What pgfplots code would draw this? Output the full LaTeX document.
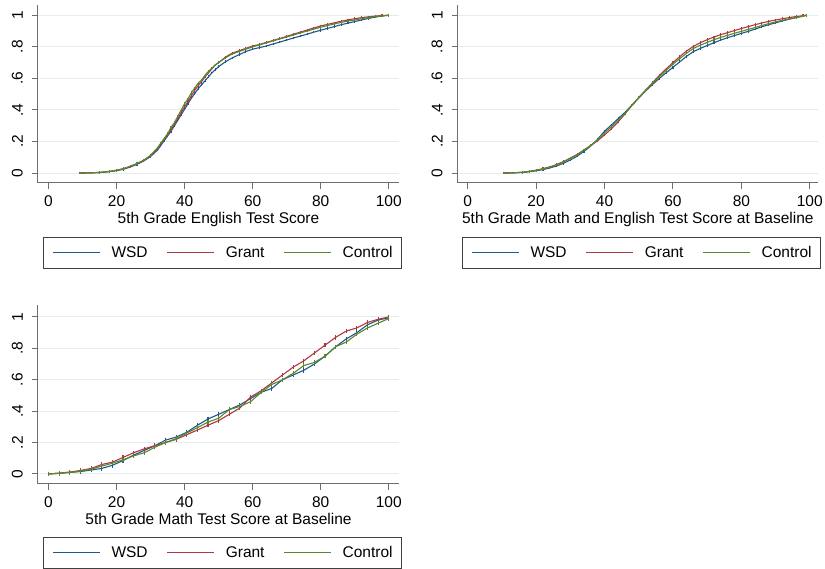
\documentclass[border=0pt]{standalone}
\usepackage{fontspec}
\setmainfont{Liberation Sans}
\usepackage{pgfplots}
\pgfplotsset{compat=1.18}
\definecolor{wsd}{RGB}{30,88,140}
\definecolor{grant}{RGB}{175,55,65}
\definecolor{ctrl}{RGB}{90,135,45}
\definecolor{gridc}{RGB}{228,237,237}
\definecolor{axc}{RGB}{110,110,110}
\pgfplotsset{stata/.style={
  scale only axis, width=361pt, height=178pt,
  axis lines*=left, axis line style={axc, line width=1pt},
  xmin=-3.1, xmax=103, ymin=-0.063, ymax=1.065,
  xtick={0,20,...,100}, ytick={0,0.2,0.4,0.6,0.8,1}, yticklabels={0,.2,.4,.6,.8,1},
  tick align=outside, major tick length=6pt, tick style={axc, line width=1pt},
  ymajorgrids, grid style={gridc, line width=1pt},
  font=\fontsize{15.5}{18}\selectfont,
  /pgf/number format/assume math mode=true,
  xticklabel style={inner sep=0pt, anchor=north}, xticklabel shift=6pt,
  yticklabel style={rotate=90, inner sep=0pt, anchor=south}, yticklabel shift=9pt,
  xlabel style={at={(axis description cs:0.5,0)}, anchor=base, yshift=-41pt},
  legend columns=3,
  legend image code/.code={\draw[##1] (0pt,0pt) -- (47pt,0pt);},
  legend style={draw=black!75, line width=0.8pt, inner xsep=9pt, inner ysep=9pt,
     font=\fontsize{15.5}{18}\selectfont, anchor=north west,
     nodes={inner sep=0pt},
     /tikz/every odd column/.append style={column sep=11pt},
     /tikz/every even column/.append style={column sep=19pt}},
  every axis plot/.append style={line width=1.1pt},
  jag/.style={mark=|, mark size=1.3pt, mark options={solid}},
}}
\begin{document}
\begin{tikzpicture}
\useasboundingbox (0,0) rectangle (825pt,569pt);
% Panel 1
\begin{axis}[stata, at={(38pt,386pt)}, anchor=south west,
  xlabel={5th Grade English Test Score},
  legend style={at={(axis description cs:0.0139,-0.3034)}}]
\addplot[wsd, jag] coordinates {(9,0)(12,0.001)(15,0.003)(18,0.009)(20,0.015)(22,0.024)(24,0.038)(26,0.055)(28,0.077)(30,0.105)(32,0.145)(33,0.175)(34,0.205)(35,0.235)(36,0.265)(37,0.30)(38,0.335)(39,0.37)(40,0.405)(41,0.44)(42,0.475)(43,0.505)(44,0.535)(45,0.56)(46,0.585)(47,0.61)(48,0.635)(49,0.655)(50,0.675)(52,0.705)(54,0.73)(56,0.75)(58,0.77)(60,0.785)(62,0.795)(64,0.805)(66,0.818)(68,0.83)(70,0.843)(72,0.856)(74,0.868)(76,0.88)(78,0.893)(80,0.905)(82,0.917)(84,0.928)(86,0.94)(88,0.95)(90,0.96)(92,0.97)(94,0.98)(96,0.988)(98,0.995)(100,1)};
\addlegendentry{WSD}
\addplot[grant, jag] coordinates {(9,0)(12,0.001)(15,0.004)(18,0.011)(20,0.018)(22,0.028)(24,0.043)(26,0.06)(28,0.08)(30,0.11)(32,0.155)(33,0.185)(34,0.215)(35,0.24)(36,0.275)(37,0.31)(38,0.345)(39,0.385)(40,0.42)(41,0.455)(42,0.49)(43,0.525)(44,0.555)(45,0.58)(46,0.61)(47,0.635)(48,0.66)(49,0.685)(50,0.70)(52,0.735)(54,0.76)(56,0.775)(58,0.79)(60,0.805)(62,0.815)(64,0.828)(66,0.84)(68,0.853)(70,0.866)(72,0.88)(74,0.893)(76,0.906)(78,0.92)(80,0.932)(82,0.942)(84,0.952)(86,0.962)(88,0.97)(90,0.978)(92,0.985)(94,0.99)(96,0.995)(98,0.998)(100,1)};
\addlegendentry{Grant}
\addplot[ctrl, jag] coordinates {(9,0)(12,0.001)(15,0.004)(18,0.01)(20,0.017)(22,0.027)(24,0.042)(26,0.06)(28,0.082)(30,0.113)(32,0.16)(33,0.19)(34,0.22)(35,0.25)(36,0.29)(37,0.32)(38,0.36)(39,0.40)(40,0.44)(41,0.47)(42,0.51)(43,0.54)(44,0.57)(45,0.59)(46,0.62)(47,0.645)(48,0.665)(49,0.685)(50,0.70)(52,0.73)(54,0.755)(56,0.77)(58,0.785)(60,0.80)(62,0.812)(64,0.825)(66,0.838)(68,0.85)(70,0.862)(72,0.875)(74,0.888)(76,0.90)(78,0.912)(80,0.924)(82,0.935)(84,0.945)(86,0.955)(88,0.963)(90,0.97)(92,0.978)(94,0.985)(96,0.991)(98,0.996)(100,1)};
\addlegendentry{Control}
\end{axis}
% Panel 2
\begin{axis}[stata, at={(457.7pt,386pt)}, anchor=south west, width=360.3pt,
  xmin=-2.92, xmax=102.4,
  xlabel={5th Grade Math and English Test Score at Baseline},
  legend style={at={(axis description cs:0.012,-0.3034)}}]
\addplot[wsd, jag] coordinates {(10.5,0)(13,0.001)(16,0.004)(18,0.008)(20,0.014)(22,0.022)(24,0.032)(26,0.045)(28,0.062)(30,0.083)(32,0.107)(34,0.137)(36,0.172)(38,0.215)(40,0.265)(42,0.305)(44,0.345)(46,0.385)(48,0.43)(50,0.475)(52,0.52)(54,0.56)(56,0.60)(58,0.635)(60,0.67)(62,0.705)(64,0.74)(66,0.77)(68,0.79)(70,0.808)(72,0.826)(74,0.843)(76,0.858)(78,0.872)(80,0.885)(82,0.898)(84,0.912)(86,0.927)(88,0.94)(90,0.952)(92,0.964)(94,0.975)(96,0.985)(98,0.994)(99,1)};
\addlegendentry{WSD}
\addplot[grant, jag] coordinates {(10.5,0)(13,0.001)(16,0.005)(18,0.011)(20,0.018)(22,0.028)(24,0.039)(26,0.054)(28,0.073)(30,0.095)(32,0.118)(34,0.147)(36,0.175)(38,0.205)(40,0.242)(42,0.28)(44,0.325)(46,0.375)(48,0.428)(50,0.478)(52,0.525)(54,0.572)(56,0.618)(58,0.66)(60,0.70)(62,0.738)(64,0.774)(66,0.803)(68,0.826)(70,0.845)(72,0.862)(74,0.877)(76,0.89)(78,0.903)(80,0.916)(82,0.928)(84,0.94)(86,0.951)(88,0.961)(90,0.97)(92,0.978)(94,0.985)(96,0.992)(98,0.997)(99,1)};
\addlegendentry{Grant}
\addplot[ctrl, jag] coordinates {(10.5,0)(13,0.001)(16,0.005)(18,0.01)(20,0.017)(22,0.026)(24,0.037)(26,0.052)(28,0.07)(30,0.092)(32,0.115)(34,0.145)(36,0.175)(38,0.21)(40,0.255)(42,0.293)(44,0.335)(46,0.38)(48,0.43)(50,0.478)(52,0.523)(54,0.567)(56,0.61)(58,0.65)(60,0.69)(62,0.725)(64,0.76)(66,0.79)(68,0.81)(70,0.828)(72,0.845)(74,0.86)(76,0.873)(78,0.886)(80,0.898)(82,0.91)(84,0.922)(86,0.935)(88,0.947)(90,0.958)(92,0.968)(94,0.977)(96,0.986)(98,0.995)(99,1)};
\addlegendentry{Control}
\end{axis}
% Panel 3
\begin{axis}[stata, at={(38pt,85pt)}, anchor=south west, height=179pt,
  ymin=-0.064, ymax=1.076,
  xlabel={5th Grade Math Test Score at Baseline},
  legend style={at={(axis description cs:0.0139,-0.296)}}]
\addplot[wsd, mark=|, mark size=2.2pt, mark options={solid}] coordinates {(0,0)(3.125,0.004)(6.25,0.01)(9.375,0.015)(12.5,0.025)(15.625,0.035)(18.75,0.055)(21.875,0.085)(25,0.12)(28.125,0.15)(31.25,0.18)(34.375,0.215)(37.5,0.235)(40.625,0.265)(43.75,0.31)(46.875,0.35)(50,0.38)(53.125,0.41)(56.25,0.44)(59.375,0.48)(62.5,0.52)(65.625,0.545)(68.75,0.60)(71.875,0.63)(75,0.66)(78.125,0.70)(81.25,0.75)(84.375,0.81)(87.5,0.86)(90.625,0.90)(93.75,0.95)(96.875,0.98)(100,0.995)};
\addlegendentry{WSD}
\addplot[grant, mark=|, mark size=2.2pt, mark options={solid}] coordinates {(0,0)(3.125,0.005)(6.25,0.012)(9.375,0.022)(12.5,0.035)(15.625,0.06)(18.75,0.075)(21.875,0.105)(25,0.135)(28.125,0.16)(31.25,0.18)(34.375,0.2)(37.5,0.22)(40.625,0.25)(43.75,0.28)(46.875,0.31)(50,0.34)(53.125,0.38)(56.25,0.42)(59.375,0.49)(62.5,0.53)(65.625,0.58)(68.75,0.63)(71.875,0.68)(75,0.72)(78.125,0.77)(81.25,0.82)(84.375,0.87)(87.5,0.91)(90.625,0.93)(93.75,0.965)(96.875,0.985)(100,1)};
\addlegendentry{Grant}
\addplot[ctrl, mark=|, mark size=2.2pt, mark options={solid}] coordinates {(0,0)(3.125,0.004)(6.25,0.01)(9.375,0.018)(12.5,0.03)(15.625,0.05)(18.75,0.068)(21.875,0.09)(25,0.115)(28.125,0.135)(31.25,0.17)(34.375,0.2)(37.5,0.225)(40.625,0.26)(43.75,0.295)(46.875,0.33)(50,0.355)(53.125,0.41)(56.25,0.43)(59.375,0.46)(62.5,0.52)(65.625,0.57)(68.75,0.60)(71.875,0.64)(75,0.69)(78.125,0.71)(81.25,0.75)(84.375,0.81)(87.5,0.84)(90.625,0.89)(93.75,0.93)(96.875,0.96)(100,0.99)};
\addlegendentry{Control}
\end{axis}
\end{tikzpicture}
\end{document}
